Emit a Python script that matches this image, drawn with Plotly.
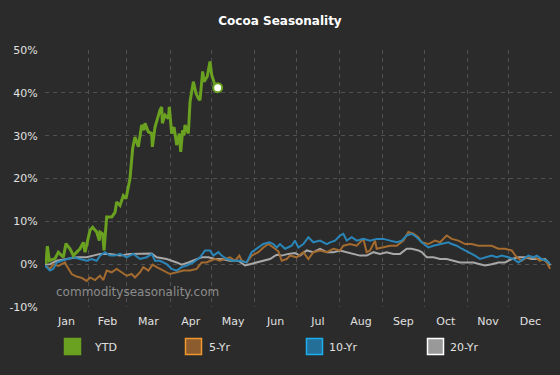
import plotly.graph_objects as go

# ---------------- data (day of year, % change) ----------------
months = ["Jan", "Feb", "Mar", "Apr", "May", "Jun", "Jul", "Aug", "Sep", "Oct", "Nov", "Dec"]
month_starts = [0, 31, 59, 90, 120, 151, 181, 212, 243, 273, 304, 334, 365]

ytd_days = [0.7, 1.7, 3.1, 7.2, 9.6, 13.2, 15.1, 18, 20.4, 25.2, 27.6, 28.8, 32.4, 34.3, 37.2,
            39.1, 39.6, 41.5, 42.5, 44.4, 48, 50.4, 51.6, 54, 56.4, 58.3, 61.2, 63.1, 64.8,
            67.2, 69.6, 71.3, 72, 74.4, 76.8, 77.3, 79.2, 82.8, 84, 84.5, 86.4, 88.8, 89.5,
            91.2, 92.9, 94.8, 96.7, 97.7, 99.1, 100.1, 100.8, 103.2, 104.4, 106.8, 108.7,
            110.4, 111.6, 113.5, 114.5, 116.8, 118.8, 120, 122.4, 124.3]
ytd_vals = [0, 4.2, 0.8, 1.3, 2.8, 1.6, 4.8, 3.6, 2.0, 3.6, 5.1, 2.8, 7.9, 8.6, 7.5,
            5.5, 7.5, 7.1, 3.2, 11, 11, 12.1, 14.5, 13.7, 16, 15.3, 20, 27, 29.7,
            27.4, 32.5, 31.3, 32.9, 30.9, 30.5, 27.4, 32, 36, 36.7, 32.9, 34.8, 34, 36.7,
            30.5, 32, 27.8, 30.5, 26.2, 31.3, 30.1, 32.5, 30.5, 37.9, 42.6, 39.9,
            38.7, 38.3, 45, 42.6, 43.8, 47.3, 44.2, 41.8, 41.2]

yr5_days = [0, 3.6, 6, 9.6, 14.4, 15.6, 19.2, 22.8, 26.4, 30, 32.4, 36, 39.6, 42, 44.4, 48,
            51.6, 55.2, 58.8, 62.4, 64.8, 68.4, 70.8, 74.4, 77.5, 80.4, 85.2, 90, 94.8, 99.6,
            104.4, 109.2, 112.8, 116.4, 118.8, 122.4, 126, 129.6, 133.2, 136.8, 139.9, 141.6,
            145.2, 148.8, 153.6, 157.2, 160.8, 164.4, 168, 170.4, 174, 176.4, 181.2, 186,
            189.6, 193.2, 198, 202.8, 207.6, 212.4, 214.8, 219.6, 224.4, 229.2, 231.6, 234,
            237.6, 238.8, 243.6, 248.4, 253.2, 258, 261.6, 265.2, 268.8, 271.2, 276, 280.8,
            284.4, 289.2, 292.8, 297.6, 302.4, 307.2, 312, 316.8, 321.6, 326.4, 331.2, 336,
            339.6, 343.2, 346.8, 352.8, 356.4, 358.8, 361.2, 363.6]
yr5_vals = [-0.3, -1.1, 0, -0.4, 0.4, -0.4, -2.3, -2.9, -3.2, -3.9, -3.1, -3.7, -2.7, -3.7, -1.5, -1.9,
            -1.1, -1.9, -2.7, -2.3, -3.1, -1.9, -0.7, -1.5, -0.1, -0.7, -1.5, -2.3, -1.9, -1.5,
            -1.5, -1.1, 0.4, 0.4, 0.8, 1.2, 0.8, 1.2, 1.6, 0.8, 2.0, 0.8,
            0.4, 2.0, 2.8, 3.9, 4.7, 3.9, 3.0, 0.8, 1.2, 2.0, 1.6, 2.8,
            1.2, 2.8, 3.2, 2.8, 3.6, 3.2, 4.3, 4.7, 4.3, 5.9, 2.8, 3.2,
            5.5, 3.6, 3.9, 4.3, 4.3, 5.5, 7.5, 7.1, 6.3, 5.1, 4.7, 5.5,
            5.1, 6.7, 5.9, 5.5, 4.7, 4.7, 4.3, 4.3, 4.3, 3.6, 3.6, 3.2,
            1.6, 0.8, 1.6, 1.6, 0.8, 1.2, 0.4, -1.1]

yr10_days = [0, 3.6, 6, 8.4, 12, 15.6, 20.4, 25.2, 30, 33.6, 37.2, 39.6, 43.2, 46.8, 50.4, 54,
             58.8, 63.6, 68.4, 73.2, 76.8, 79.2, 82.8, 87.6, 91.2, 94.8, 98.4, 102, 106.8, 111.6,
             115.2, 118.8, 121.2, 124.8, 127.2, 130.8, 135.6, 140.4, 145.2, 148.8, 152.4, 157.2,
             161.5, 164.4, 166.8, 169.2, 172.8, 177.6, 180, 182.4, 186, 189.6, 193.2, 198,
             202.8, 205.2, 208.8, 212.4, 214.8, 217.2, 220.8, 224.4, 229.2, 234, 238.8, 243.6,
             248.4, 253.2, 256.8, 260.4, 264, 267.6, 271.2, 276, 279.6, 284.4, 290.4, 292.8,
             296.4, 300, 304.8, 309.6, 313.2, 316.8, 321.6, 325.2, 328.8, 333.6, 337.2, 340.8,
             344.4, 348, 351.6, 354, 357.6, 361.2, 363.6]
yr10_vals = [-0.3, -1.5, -1.1, 0.4, 0.8, 1.2, 1.6, 1.2, 0.8, 1.2, 0.8, 2.0, 2.8, 2.0, 2.0, 2.4,
             1.6, 2.4, 1.2, 1.6, 2.4, 0.8, 0.8, 0, -1.1, -1.5, -0.7, -0.3, 0.4, 1.6,
             3.2, 3.2, 2.0, 2.8, 2.0, 1.2, 0.8, 0.8, 0.4, 2.8, 3.6, 4.7,
             5.1, 4.7, 3.9, 4.7, 3.6, 4.3, 5.5, 3.9, 4.7, 6.3, 5.1, 5.5,
             4.7, 5.1, 5.5, 6.7, 7.1, 5.5, 6.3, 5.5, 5.9, 5.5, 5.9, 5.9,
             5.5, 5.1, 5.5, 6.7, 7.1, 6.3, 5.1, 3.9, 4.3, 4.7, 5.1, 4.7,
             4.3, 3.6, 2.8, 2.0, 1.2, 1.6, 2.0, 1.6, 2.0, 1.6, 1.2, 0.4,
             1.2, 2.0, 1.6, 2.0, 1.2, 0.8, 0]

yr20_days = [0, 3.6, 8.4, 15.6, 22.8, 30, 34.8, 39.6, 46.8, 54, 61.2, 68.4, 76.8, 80.4, 87.6,
             94.8, 98.4, 103.2, 109.2, 112.8, 117.6, 122.4, 127.2, 133.2, 139.2, 144, 147.6,
             152.4, 157.2, 162, 166.8, 170.4, 175.2, 180, 183.6, 188.4, 193.2, 198, 202.8,
             207.6, 212.4, 217.2, 222, 226.8, 231.6, 236.4, 241.2, 246, 250.8, 255.6, 260.4,
             264, 268.8, 271.2, 274.8, 279.6, 284.4, 289.2, 294, 298.8, 303.6, 308.4, 313.2,
             316.8, 321.6, 326.4, 331.2, 336, 340.8, 345.6, 350.4, 355.2, 360, 362.4, 363.6]
yr20_vals = [-0.1, 0, 0.8, 1.2, 1.6, 1.6, 2.0, 2.4, 2.4, 2.0, 2.4, 2.4, 2.5, 1.6, 1.2,
             0.4, -0.1, 0.4, 1.2, 1.6, 1.6, 1.2, 1.2, 0.8, 0.8, -0.3, 0,
             0.4, 0.8, 1.2, 2.2, 2.0, 2.4, 2.6, 2.0, 3.2, 2.8, 3.6, 2.8,
             2.8, 3.2, 2.8, 2.4, 2.0, 2.0, 2.8, 2.4, 2.8, 2.4, 2.4, 3.6,
             3.6, 3.2, 2.8, 1.6, 1.6, 1.2, 1.2, 0.8, 0.4, 0.4, 0.4, 0,
             -0.3, 0, 0.4, 0.4, 1.2, 1.6, 1.6, 1.2, 1.2, 1.2, 0.4, -0.3]

y_ticks = [-10, 0, 10, 20, 30, 40, 50]
y_labels = ["-10%", "0%", "10%", "20%", "30%", "40%", "50%"]

# ---------------- styling ----------------
BG = "#2b2b2b"
GRID = "#505050"
C_YTD = "#6aa121"
C_5 = "#a36b2f"
C_10 = "#2a86b8"
C_20 = "#a8a8a8"
TXT = "#e0e0e0"

W, H = 560, 375
L, R, T, B = 45, 8, 50, 68
PW, PH = W - L - R, H - T - B


def px_x(px):
    return (px - L) / PW


def px_y(py):
    return (H - B - py) / PH


month_centers = [(month_starts[i] + month_starts[i + 1]) / 2 for i in range(12)]

fig = go.Figure()
fig.add_trace(go.Scatter(x=yr20_days, y=yr20_vals, mode="lines", line=dict(color=C_20, width=2), name="20-Yr"))
fig.add_trace(go.Scatter(x=yr5_days, y=yr5_vals, mode="lines", line=dict(color=C_5, width=2), name="5-Yr"))
fig.add_trace(go.Scatter(x=yr10_days, y=yr10_vals, mode="lines", line=dict(color=C_10, width=2), name="10-Yr"))
fig.add_trace(go.Scatter(x=ytd_days, y=ytd_vals, mode="lines", line=dict(color=C_YTD, width=3), name="YTD"))
fig.add_trace(go.Scatter(x=[ytd_days[-1]], y=[ytd_vals[-1]], mode="markers",
                         marker=dict(color="white", size=9, line=dict(color=C_YTD, width=2)),
                         showlegend=False))

fig.update_layout(
    width=W, height=H,
    margin=dict(l=L, r=R, t=T, b=B),
    paper_bgcolor=BG, plot_bgcolor=BG,
    showlegend=False,
    hovermode=False,
    font=dict(family="DejaVu Sans", size=11, color=TXT),
    title=dict(text="<b>Cocoa Seasonality</b>", x=0.5, xanchor="center", y=1 - 21 / H, yanchor="middle",
               font=dict(family="DejaVu Sans", size=12, color="#ffffff")),
    xaxis=dict(range=[0, 365], tickmode="array", tickvals=month_centers, ticktext=months,
               showgrid=False, zeroline=False, showline=False,
               ticks="outside", ticklen=4, tickcolor="rgba(0,0,0,0)",
               tickfont=dict(size=11, color=TXT),
               minor=dict(tickmode="array", tickvals=month_starts, showgrid=True,
                          gridcolor=GRID, griddash="4px,4px", gridwidth=1, ticks="")),
    yaxis=dict(range=[-10, 50], tickmode="array", tickvals=y_ticks, ticktext=y_labels,
               showgrid=True, gridcolor=GRID, griddash="4px,4px", gridwidth=1,
               zeroline=False, showline=False,
               ticks="outside", ticklen=4, tickcolor="rgba(0,0,0,0)",
               tickfont=dict(size=11, color=TXT)),
)

# watermark
fig.add_annotation(text="commodityseasonality.com", xref="paper", yref="paper",
                   x=px_x(54), y=px_y(292), xanchor="left", yanchor="middle", showarrow=False,
                   font=dict(family="DejaVu Sans", size=12, color="#8c8c8c"))

# custom legend
legend_items = [
    ("YTD", 64, 92, "#6aa121", "#6aa121"),
    ("5-Yr", 185, 207, "#8c5c2e", "#f0982e"),
    ("10-Yr", 306, 327, "#236f98", "#1ab0f0"),
    ("20-Yr", 427, 448, "#999999", "#ffffff"),
]
for label, sx, tx, fill, border in legend_items:
    fig.add_shape(type="rect", xref="paper", yref="paper",
                  x0=px_x(sx + 0.5), x1=px_x(sx + 16.5), y0=px_y(354.5), y1=px_y(338.5),
                  fillcolor=fill, line=dict(color=border, width=1.5))
    fig.add_annotation(text=label, xref="paper", yref="paper", x=px_x(tx), y=px_y(347),
                       xanchor="left", yanchor="middle", showarrow=False,
                       font=dict(family="DejaVu Sans", size=11, color=TXT))

fig.write_html("out.html", config={"displayModeBar": False, "staticPlot": True},
               post_script="document.body.style.margin='0';document.body.style.background='#2b2b2b';")
